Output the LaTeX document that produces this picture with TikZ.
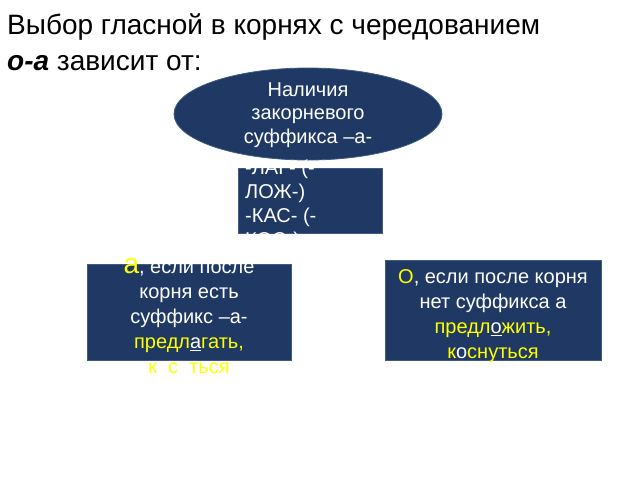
\documentclass[tikz,border=0pt]{standalone}
\usepackage{fontspec}
\setmainfont{Liberation Sans}
\usetikzlibrary{shapes.geometric}

\definecolor{boxblue}{RGB}{31,56,100}
\definecolor{edgeblue}{RGB}{62,92,130}
\definecolor{hiyellow}{RGB}{255,255,0}

\begin{document}
\begin{tikzpicture}[x=1pt, y=-1pt,
    % === STYLES ===
    box/.style={rectangle, fill=boxblue, draw=edgeblue, line width=0.8pt, inner sep=0pt},
    oval/.style={ellipse, fill=boxblue, draw=edgeblue, line width=0.8pt, inner sep=0pt},
    title text/.style={font=\fontsize{28}{33}\selectfont, inner sep=0pt, anchor=base west},
    box text/.style={font=\fontsize{20}{25}\selectfont, text=white, inner sep=0pt, align=center, anchor=north},
]
    % === KHUNG ===
    \useasboundingbox (0,0) rectangle (640,480);

    % === TIÊU ĐỀ ===
    \node[title text] (title1) at (7,34) {Выбор гласной в корнях с чередованием};
    \node[title text] (title2) at (7,70) {\textbf{\textit{о-а}} зависит от:};

    % === ELIP ===
    \node[oval, minimum width=268pt, minimum height=92pt] (cond) at (308,114) {};
    \node[box text, font=\fontsize{20}{23.5}\selectfont] (condtext) at (308,79.5)
        {\strut Наличия\\закорневого\\суффикса –а-};

    % === CÁC HỘP ===
    \node[box, minimum width=144pt, minimum height=65pt] (roots) at (310,200.5) {};
    \node[box, minimum width=204pt, minimum height=96pt] (left) at (189,312) {};
    \node[box, minimum width=216pt, minimum height=100pt] (right) at (493,310) {};

    % === CHỮ TRONG HỘP ===
    \node[box text, align=left, anchor=north west, font=\fontsize{20}{24}\selectfont] (rootstext) at (245,157.5)
        {\strut -ЛАГ- (-\\ЛОЖ-)\\-КАС- (-\\КОС-)};
    \node[box text] (lefttext) at (189,255.5)
        {\strut{\fontsize{28}{25}\selectfont\color{hiyellow}а}, если после\\корня есть\\суффикс –а-\\
         {\color{hiyellow}предл\textcolor{white}{\underline{а}}гать,}\\
         {\color{hiyellow}к\textcolor{white}{а}с\textcolor{white}{а}ться}};
    \node[box text] (righttext) at (493,265.5)
        {\strut{\color{hiyellow}О}, если после корня\\нет суффикса а\\
         {\color{hiyellow}предл\textcolor{white}{\underline{о}}жить,}\\
         {\color{hiyellow}к\textcolor{white}{о}снуться}};

\end{tikzpicture}
\end{document}
